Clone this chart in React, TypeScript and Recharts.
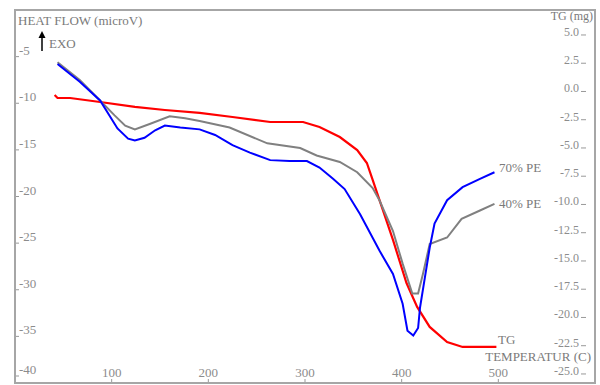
import { Line, LineChart, XAxis, YAxis } from 'recharts';

// temperature (C) and heat flow (microV)
const pe70Temp = [44, 67, 88, 106, 117, 124, 134, 145, 155, 171, 191, 207, 225, 243, 264, 284, 302, 315, 329, 341, 357, 377, 391, 401, 406, 412, 417, 419, 424, 429, 434, 447, 463, 481, 496];
const pe70Flow = [-5.8, -7.7, -9.7, -12.7, -13.8, -14.0, -13.7, -12.9, -12.4, -12.6, -12.8, -13.4, -14.5, -15.3, -16.1, -16.2, -16.2, -16.9, -18.1, -19.2, -21.9, -25.8, -28.3, -31.5, -34.4, -34.9, -34.1, -31.9, -28.7, -25.5, -22.9, -20.4, -19.0, -18.1, -17.4];

const pe40Temp = [44, 67, 88, 103, 114, 124, 140, 160, 176, 191, 222, 261, 295, 312, 336, 354, 370, 377, 391, 401, 411, 417, 422, 429, 447, 462, 481, 496];
const pe40Flow = [-5.6, -7.5, -9.7, -11.3, -12.4, -12.8, -12.2, -11.4, -11.6, -11.9, -12.6, -14.3, -14.8, -15.6, -16.3, -17.4, -19.1, -20.4, -23.7, -27.2, -30.4, -30.4, -28.3, -25.1, -24.4, -22.4, -21.5, -20.8];

// TG (mg)
const tgTemp = [41, 44, 57, 88, 124, 155, 191, 225, 264, 298, 315, 336, 354, 364, 370, 377, 391, 405, 416, 429, 447, 463, 498];
const tgMass = [-0.31, -0.58, -0.58, -0.93, -1.37, -1.64, -1.9, -2.26, -2.7, -2.7, -3.14, -4.03, -5.18, -6.33, -7.83, -9.6, -13.14, -16.95, -19.07, -20.84, -22.17, -22.61, -22.61];

const tempTicks = [100, 200, 300, 400, 500];
const flowTicks = [-5, -10, -15, -20, -25, -30, -35, -40];
const tgTicks = [5, 2.5, 0, -2.5, -5, -7.5, -10, -12.5, -15, -17.5, -20, -22.5, -25];

const pe70Data = pe70Temp.map((t, i) => ({ t, v: pe70Flow[i] }));
const pe40Data = pe40Temp.map((t, i) => ({ t, v: pe40Flow[i] }));
const tgData = tgTemp.map((t, i) => ({ t, v: tgMass[i] }));

const W = 600;
const H = 385;
const PLOT_LEFT = 15;
const PLOT_RIGHT = 595;
const PLOT_TOP = 10;
const PLOT_BOTTOM = 383;

const FONT = '"Liberation Serif", "DejaVu Serif", serif';
const TEXT = '#7a7a7a';
const TICK = '#8c8c8c';

function LeftTick({ y, payload }: any) {
  return (
    <g>
      <line x1={PLOT_LEFT} x2={PLOT_LEFT + 4} y1={y} y2={y} stroke="#999" />
      <text x={PLOT_LEFT + 4} y={y - 2} fontSize={13} fill={TICK} fontFamily={FONT}>
        {payload.value}
      </text>
    </g>
  );
}

function RightTick({ y, payload }: any) {
  return (
    <g>
      <line x1={PLOT_RIGHT - 14} x2={PLOT_RIGHT - 9} y1={y} y2={y} stroke="#999" />
      <text x={PLOT_RIGHT - 16} y={y + 1} fontSize={12} fill={TICK} fontFamily={FONT} textAnchor="end">
        {payload.value.toFixed(1)}
      </text>
    </g>
  );
}

function BottomTick({ x, payload }: any) {
  return (
    <g>
      <line x1={x} x2={x} y1={PLOT_BOTTOM} y2={PLOT_BOTTOM - 4} stroke="#999" />
      <text x={x} y={PLOT_BOTTOM - 6} fontSize={13} fill={TICK} fontFamily={FONT} textAnchor="middle">
        {payload.value}
      </text>
    </g>
  );
}

export default function App() {
  return (
    <div style={{ position: 'absolute', left: 0, top: 0, width: W, height: H, background: '#fff' }}>
      <LineChart
        width={W}
        height={H}
        margin={{ top: PLOT_TOP, right: W - PLOT_RIGHT, bottom: H - PLOT_BOTTOM, left: PLOT_LEFT }}
      >
        <XAxis
          dataKey="t"
          type="number"
          domain={[0, 600]}
          ticks={tempTicks}
          allowDataOverflow
          mirror
          axisLine={false}
          tickLine={false}
          tick={<BottomTick />}
        />
        <YAxis
          yAxisId="flow"
          type="number"
          domain={[-40, 0]}
          ticks={flowTicks}
          allowDataOverflow
          mirror
          axisLine={false}
          tickLine={false}
          tick={<LeftTick />}
        />
        <YAxis
          yAxisId="tg"
          orientation="right"
          type="number"
          domain={[-25.8, 7.21]}
          ticks={tgTicks}
          allowDataOverflow
          mirror
          axisLine={false}
          tickLine={false}
          tick={<RightTick />}
        />
        <Line yAxisId="tg" data={tgData} dataKey="v" type="linear" stroke="#ff0000" strokeWidth={2.2} dot={false} isAnimationActive={false} />
        <Line yAxisId="flow" data={pe40Data} dataKey="v" type="linear" stroke="#808080" strokeWidth={2} dot={false} isAnimationActive={false} />
        <Line yAxisId="flow" data={pe70Data} dataKey="v" type="linear" stroke="#0000ff" strokeWidth={2} dot={false} isAnimationActive={false} />
      </LineChart>
      <svg
        width={W}
        height={H}
        style={{ position: 'absolute', left: 0, top: 0, pointerEvents: 'none' }}
        fontFamily={FONT}
      >
        <rect
          x={PLOT_LEFT}
          y={PLOT_TOP}
          width={PLOT_RIGHT - PLOT_LEFT}
          height={PLOT_BOTTOM - PLOT_TOP}
          fill="none"
          stroke="#a6a6a6"
          strokeWidth={2}
        />
        <text x={18} y={25} fontSize={13} fill={TEXT}>HEAT FLOW (microV)</text>
        <line x1={42} x2={42} y1={51} y2={37} stroke="#000" strokeWidth={1.5} />
        <polygon points="42,31 38.5,38 45.5,38" fill="#000" />
        <text x={49} y={48} fontSize={13} fill={TEXT}>EXO</text>
        <text x={593} y={20} fontSize={12} fill={TEXT} textAnchor="end">TG (mg)</text>
        <text x={499} y={172} fontSize={13} fill={TEXT}>70% PE</text>
        <text x={499} y={208} fontSize={13} fill={TEXT}>40% PE</text>
        <text x={498} y={344} fontSize={13} fill={TEXT}>TG</text>
        <text x={591} y={361} fontSize={13} fill={TEXT} textAnchor="end">TEMPERATUR (C)</text>
      </svg>
    </div>
  );
}
